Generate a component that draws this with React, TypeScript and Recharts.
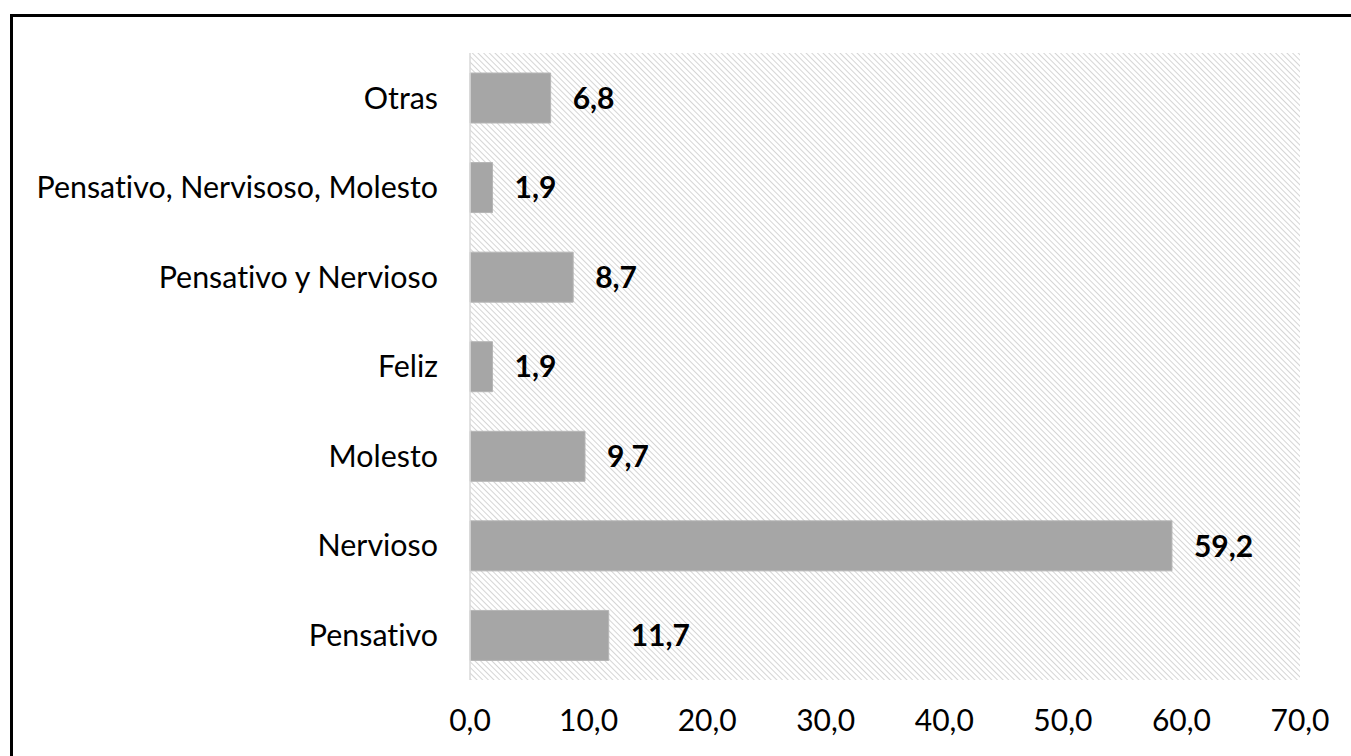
import React from "react";
import { BarChart, Bar, XAxis, YAxis, CartesianGrid, LabelList } from "recharts";

const categories = [
  "Otras",
  "Pensativo, Nervisoso, Molesto",
  "Pensativo y Nervioso",
  "Feliz",
  "Molesto",
  "Nervioso",
  "Pensativo",
];
const values = [6.8, 1.9, 8.7, 1.9, 9.7, 59.2, 11.7];
const xTicks = [0, 10, 20, 30, 40, 50, 60, 70];

const data = categories.map((c, i) => ({ name: c, value: values[i] }));

const FONT = "Lato, 'Open Sans', sans-serif";
const fmt = (v: number) => v.toFixed(1).replace(".", ",");

export default function App() {
  return (
    <div
      style={{
        position: "absolute",
        left: 0,
        top: 0,
        width: 1351,
        height: 756,
        overflow: "hidden",
        background: "#fff",
        fontVariantLigatures: "none",
      }}
    >
      <svg width={0} height={0} style={{ position: "absolute" }}>
        <defs>
          <pattern id="hatch" patternUnits="userSpaceOnUse" width={4} height={4} patternTransform="rotate(-45)">
            <rect x={0} y={0} width={4} height={4} fill="#ffffff" />
            <line x1={0} y1={0} x2={0} y2={4} stroke="#c4c4c4" strokeWidth={1.4} />
          </pattern>
        </defs>
      </svg>
      <div
        style={{
          position: "absolute",
          left: 10,
          top: 14,
          width: 1400,
          height: 800,
          border: "3.5px solid #000",
          boxSizing: "border-box",
        }}
      />
      <div style={{ position: "absolute", left: 0, top: 0 }}>
        <BarChart
          width={1351}
          height={756}
          data={data}
          layout="vertical"
          margin={{ top: 53, right: 51, bottom: 46, left: 0 }}
          barCategoryGap={0}
        >
          <CartesianGrid horizontal={false} vertical={false} fill="url(#hatch)" />
          <XAxis
            type="number"
            domain={[0, 70]}
            ticks={xTicks}
            axisLine={false}
            tickLine={false}
            tickMargin={24}
            tickFormatter={fmt}
            tick={{ fill: "#000", fontSize: 30, fontFamily: FONT }}
            interval={0}
            height={30}
          />
          <YAxis
            type="category"
            dataKey="name"
            width={470}
            axisLine={{ stroke: "#d9d9d9", strokeWidth: 1.5 }}
            tickLine={false}
            tickMargin={26}
            tick={{ fill: "#000", fontSize: 30.4, fontFamily: FONT }}
            interval={0}
          />
          <Bar dataKey="value" fill="#a6a6a6" stroke="#b5b5b5" barSize={50} isAnimationActive={false}>
            <LabelList
              dataKey="value"
              position="right"
              offset={22}
              formatter={(v: any) => fmt(Number(v))}
              style={{ fill: "#000", fontSize: 30, fontWeight: 700, fontFamily: FONT }}
            />
          </Bar>
        </BarChart>
      </div>
    </div>
  );
}
